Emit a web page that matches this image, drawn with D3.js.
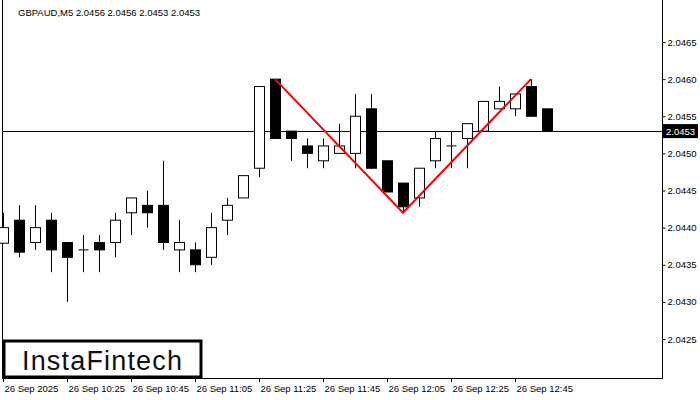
<!DOCTYPE html>
<html><head><meta charset="utf-8">
<script src="https://cdn.jsdelivr.net/npm/d3@7"></script>
<style>body{margin:0;background:#fff}text{font-family:"Liberation Sans",Arial,sans-serif}</style>
</head><body>
<svg id="c" width="700" height="400"></svg>
<script>
// candles, 5 minute bars from 26 Sep 10:05
const open  = [2.04379,2.0441,2.0438,2.0441,2.0438,2.0437,2.0438,2.0438,2.0442,2.0443,2.0443,2.0437,2.0437,2.0436,2.0441,2.0444,2.0448,2.0460,2.0453,2.0451,2.0449,2.0450,2.0450,2.0456,2.0449,2.0446,2.0444,2.0449,2.0451,2.0452,2.0453,2.0456,2.0456,2.0459,2.0456];
const high  = [2.0442,2.0443,2.0443,2.0442,2.0438,2.0439,2.0439,2.0442,2.0444,2.0445,2.0449,2.0441,2.0438,2.0442,2.0444,2.0447,2.0459,2.0460,2.0453,2.0452,2.0452,2.0454,2.0458,2.0458,2.0449,2.0446,2.0448,2.0453,2.0453,2.0454,2.0457,2.0459,2.0458,2.0460,2.0456];
const low   = [2.04379,2.0436,2.0437,2.0434,2.0430,2.0434,2.0434,2.0436,2.0439,2.0440,2.0437,2.0434,2.0434,2.0435,2.0439,2.0444,2.04468,2.0452,2.0449,2.0448,2.0448,2.0450,2.0448,2.0448,2.04448,2.0442,2.04428,2.0448,2.0448,2.0448,2.0453,2.0456,2.0455,2.0455,2.0453];
const close = [2.0440,2.04367,2.0440,2.0437,2.0436,2.0437,2.0437,2.0441,2.0444,2.0442,2.0438,2.0438,2.0435,2.0440,2.0443,2.0447,2.0459,2.0452,2.0452,2.0450,2.0451,2.0451,2.0455,2.0448,2.04448,2.04428,2.0448,2.0452,2.0451,2.0454,2.0457,2.0457,2.0458,2.0455,2.0453];
const priceTicks = [2.0465,2.0460,2.0455,2.0450,2.0445,2.0440,2.0435,2.0430,2.0425];
const timeLabels = ["26 Sep 2025","26 Sep 10:25","26 Sep 10:45","26 Sep 11:05","26 Sep 11:25","26 Sep 11:45","26 Sep 12:05","26 Sep 12:25","26 Sep 12:45"];
const patternIdx = [17,25,33];
const patternPrice = [2.0460,2.0442,2.0460];
const lastPrice = 2.0453;

const svg = d3.select("#c");
const x = d3.scaleLinear().domain([0,1]).range([3,19]);
const y = d3.scaleLinear().domain([2.0465,2.0425]).range([42,339]);
const right = 662, bottom = 378;

// frame
svg.append("path").attr("d",`M2.5,0V${bottom+0.5}H${right+0.5}V0`).attr("fill","none").attr("stroke","#000");

// right axis
const ya = svg.append("g").attr("transform",`translate(${right+0.5},0)`)
  .call(d3.axisRight(y).tickValues(priceTicks).tickSize(3).tickFormat(d3.format(".4f")));
ya.select(".domain").remove();
ya.selectAll("text").attr("font-size",9.5).attr("font-family","Liberation Sans, Arial").attr("x",5);

// bottom axis
timeLabels.forEach((t,k)=>{
  const xp = Math.round(x(k*4))+0.5;
  svg.append("line").attr("x1",xp).attr("x2",xp).attr("y1",bottom).attr("y2",bottom+4).attr("stroke","#000");
  svg.append("text").attr("x",xp+1).attr("y",bottom+14).attr("font-size",9.5).text(t);
});

// last price line
svg.append("line").attr("x1",3).attr("x2",right).attr("y1",Math.round(y(lastPrice))+0.5).attr("y2",Math.round(y(lastPrice))+0.5).attr("stroke","#000");

// candles
const g = svg.append("g");
open.forEach((o,i)=>{
  const c = close[i], cx = Math.round(x(i))+0.5;
  g.append("line").attr("x1",cx).attr("x2",cx).attr("y1",y(high[i])).attr("y2",y(low[i])).attr("stroke","#000");
  const top = y(Math.max(o,c)), h = Math.abs(y(o)-y(c));
  if (Math.abs(o-c) < 1e-6) {
    g.append("line").attr("x1",cx-5).attr("x2",cx+5).attr("y1",top).attr("y2",top).attr("stroke","#000");
  } else {
    g.append("rect").attr("x",cx-5).attr("y",top).attr("width",10).attr("height",h)
      .attr("fill", c>o ? "#fff" : "#000").attr("stroke","#000");
  }
});

// pattern
svg.append("path").attr("d", d3.line()(patternIdx.map((k,j)=>[x(k),y(patternPrice[j])])))
  .attr("fill","none").attr("stroke","#f00").attr("stroke-width",2);

// current price label
const ly = y(lastPrice);
svg.append("rect").attr("x",right+1).attr("y",ly-7).attr("width",35).attr("height",14).attr("fill","#000");
svg.append("text").attr("x",right+4).attr("y",ly+4).attr("font-size",9.5).attr("fill","#fff").text(d3.format(".4f")(lastPrice));

// header
svg.append("text").attr("x",18).attr("y",16).attr("font-size",9.5).text("GBPAUD,M5  2.0456 2.0456 2.0453 2.0453");

// logo
svg.append("rect").attr("x",4).attr("y",341).attr("width",197).attr("height",36).attr("fill","#fff").attr("stroke","#000").attr("stroke-width",3);
svg.append("text").attr("x",22).attr("y",370).attr("font-size",27).attr("textLength",160).attr("lengthAdjust","spacing")
  .attr("font-family","Inter, sans-serif").attr("fill","#111").text("InstaFintech");
</script>
</body></html>
